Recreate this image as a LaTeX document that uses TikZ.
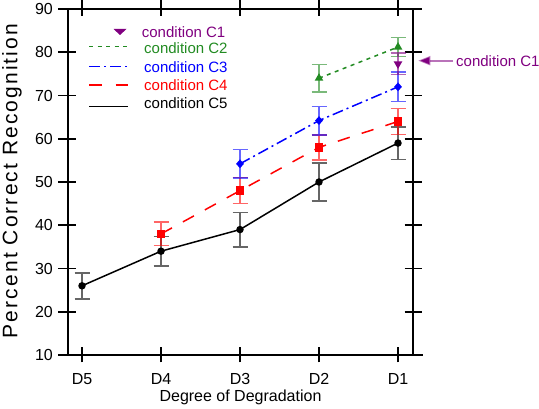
\documentclass[tikz,border=0pt]{standalone}
\usepackage{fontspec}
\setmainfont{Liberation Sans}
\newfontfamily\ylfont[LetterSpace=10]{Liberation Sans}
\usetikzlibrary{arrows.meta,shapes.geometric}
\definecolor{cone}{RGB}{128,0,128}
\definecolor{ctwo}{RGB}{34,139,34}
\definecolor{cthree}{RGB}{0,0,255}
\definecolor{cfour}{RGB}{255,0,0}
\definecolor{cfive}{RGB}{0,0,0}

\begin{document}
\begin{tikzpicture}[x=1pt,y=1pt,
  axis/.style={line width=1.7pt},
  ebar/.style={line width=1.5pt,opacity=.6},
  curve/.style={line width=1.5pt},
  dot/.style={circle,fill,inner sep=0pt,minimum size=7.5pt},
  box/.style={rectangle,fill,inner sep=0pt,minimum size=8.5pt},
  gem/.style={diamond,fill,inner sep=0pt,minimum width=8pt,minimum height=9pt},
  tri/.style={regular polygon,regular polygon sides=3,fill,inner sep=0pt,minimum size=10pt},
  ticklabel/.style={font=\fontsize{16}{19}\selectfont,inner sep=0pt},
  legtext/.style={font=\fontsize{15}{18}\selectfont,inner sep=0pt,anchor=west}]
  \useasboundingbox (0,0) rectangle (539,409);

  % 坐标轴
  \draw[axis] (68,54) -- (68,400);
  \draw[axis] (413,54) -- (413,400);
  \draw[axis] (68,54) -- (423,54);
  \draw[axis] (68,400) -- (422,400);
  % 纵轴刻度
  \foreach \v in {10,20,...,90}{
    \draw[axis] (58,{54+4.325*(\v-10)}) -- (76,{54+4.325*(\v-10)});
    \draw[axis] (404.5,{54+4.325*(\v-10)}) -- (421.5,{54+4.325*(\v-10)});
    \node[ticklabel,anchor=east] (y\v) at (53,{54+4.325*(\v-10)}) {\v};
  }
  % 横轴刻度
  \foreach \d [count=\i from 0] in {D5,D4,D3,D2,D1}{
    \draw[axis] ({82+79*\i},46.5) -- ({82+79*\i},61.5);
    \draw[axis] ({82+79*\i},393) -- ({82+79*\i},409);
    \node[ticklabel] (x\d) at ({82+79*\i},29.8) {\d};
  }
  % 轴标题
  \node[anchor=base,font=\fontsize{16}{19}\selectfont,inner sep=0pt] (xlab) at (240.5,7.3) {Degree of Degradation};
  \node[rotate=90,anchor=base,font={\ylfont\fontsize{21}{25}\selectfont},inner sep=0pt] (ylab) at (17.3,228) {Percent Correct Recognition};

  \begin{scope}[shift={(82,10.75)},x=79pt,y=4.325pt]
    % 误差棒
    \foreach \i/\v/\e in {0/26/3,1/34/3.4,2/39/4,3/50/4.4,4/59/3.75}
      \draw[ebar,cfive] (\i,\v-\e) ++(-7.5pt,0pt) -- ++(15pt,0pt) (\i,\v-\e) -- (\i,\v+\e) ++(-7.5pt,0pt) -- ++(15pt,0pt);
    \foreach \i/\v/\e in {1/38/2.7,2/48/3,3/58/2.9,4/64/3}
      \draw[ebar,cfour] (\i,\v-\e) ++(-7.5pt,0pt) -- ++(15pt,0pt) (\i,\v-\e) -- (\i,\v+\e) ++(-7.5pt,0pt) -- ++(15pt,0pt);
    \foreach \i/\v/\e in {2/54.2/3.3,3/64.2/3.3,4/72/3.4}
      \draw[ebar,cthree] (\i,\v-\e) ++(-7.5pt,0pt) -- ++(15pt,0pt) (\i,\v-\e) -- (\i,\v+\e) ++(-7.5pt,0pt) -- ++(15pt,0pt);
    \foreach \i/\v/\e in {3/74/3.2,4/81.2/2.2}
      \draw[ebar,ctwo] (\i,\v-\e) ++(-7.5pt,0pt) -- ++(15pt,0pt) (\i,\v-\e) -- (\i,\v+\e) ++(-7.5pt,0pt) -- ++(15pt,0pt);
    \draw[ebar,cone] (4,74.8) ++(-7.5pt,0pt) -- ++(15pt,0pt) (4,74.8) -- (4,79.8) ++(-7.5pt,0pt) -- ++(15pt,0pt);

    % 数据点
    \coordinate (c5d5) at (0,26);
    \coordinate (c5d4) at (1,34);
    \coordinate (c5d3) at (2,39);
    \coordinate (c5d2) at (3,50);
    \coordinate (c5d1) at (4,59);
    \coordinate (c4d4) at (1,38);
    \coordinate (c4d3) at (2,48);
    \coordinate (c4d2) at (3,58);
    \coordinate (c4d1) at (4,64);
    \coordinate (c3d3) at (2,54.2);
    \coordinate (c3d2) at (3,64.2);
    \coordinate (c3d1) at (4,72);
    \coordinate (c2d2) at (3,74);
    \coordinate (c2d1) at (4,81.2);
    \coordinate (c1d1) at (4,77.3);

    % 折线
    \draw[curve,cfive] (c5d5) -- (c5d4) -- (c5d3) -- (c5d2) -- (c5d1);
    \draw[curve,cfour,dash pattern=on 12.5pt off 12.5pt] (c4d4) -- (c4d3) -- (c4d2) -- (c4d1);
    \draw[curve,cthree,dash pattern=on 11pt off 4pt on 2pt off 4pt] (c3d3) -- (c3d2) -- (c3d1);
    \draw[curve,ctwo,dash pattern=on 4pt off 4.5pt] (c2d2) -- (c2d1);

    % 标记
    \foreach \p in {c5d5,c5d4,c5d3,c5d2,c5d1}
      \node[dot,cfive] (m\p) at (\p) {};
    \foreach \p in {c4d4,c4d3,c4d2,c4d1}
      \node[box,cfour] (m\p) at (\p) {};
    \foreach \p in {c3d3,c3d2,c3d1}
      \node[gem,cthree] (m\p) at (\p) {};
    \foreach \p in {c2d2,c2d1}
      \node[tri,ctwo] (m\p) at (\p) {};
    \node[tri,cone,shape border rotate=180] (mc1d1) at (c1d1) {};
  \end{scope}

  % 图例
  \fill[cone] (113.5,380) -- (126.5,380) -- (120,374) -- cycle;
  \node[legtext,cone] (leg1) at (141.7,377) {condition C1};
  \coordinate (l2a) at (89,362.3);
  \coordinate (l2b) at (128,362.3);
  \draw[curve,ctwo,dash pattern=on 4pt off 4.5pt] (l2a) -- (l2b);
  \node[legtext,ctwo] (leg2) at (144,361.2) {condition C2};
  \coordinate (l3a) at (89,342.3);
  \coordinate (l3b) at (128,342.3);
  \draw[curve,cthree,dash pattern=on 11pt off 4pt on 2pt off 4pt] (l3a) -- (l3b);
  \node[legtext,cthree] (leg3) at (144,342.3) {condition C3};
  \coordinate (l4a) at (89,324);
  \coordinate (l4b) at (128,324);
  \draw[curve,cfour,dash pattern=on 12.5pt off 14pt] (l4a) -- (l4b);
  \node[legtext,cfour] (leg4) at (144,324.2) {condition C4};
  \coordinate (l5a) at (89,302.3);
  \coordinate (l5b) at (128,302.3);
  \draw[curve,cfive] (l5a) -- (l5b);
  \node[legtext,cfive] (leg5) at (144,305.8) {condition C5};

  % 右侧标注
  \node[legtext,cone] (c1note) at (456,348.3) {condition C1};
  \coordinate (c1tip) at (418.3,348.3);
  \draw[cone,line width=1.7pt,draw opacity=.55,-{Triangle[length=12pt,width=9pt]}] ([xshift=-3pt]c1note.west) -- (c1tip);
\end{tikzpicture}
\end{document}
